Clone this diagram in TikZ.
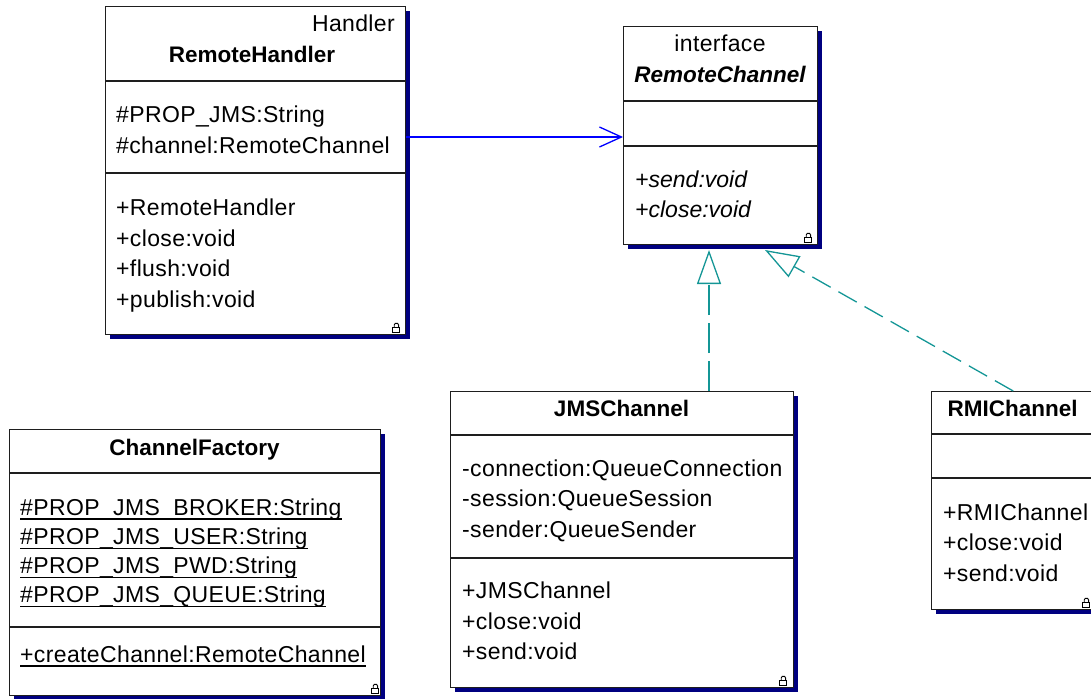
\documentclass[tikz,border=0pt]{standalone}
\usepackage{fontspec}
\setmainfont{Liberation Sans}[UprightFeatures={LetterSpace=1.6}]
\usetikzlibrary{arrows.meta,shadows}

\definecolor{umlshadow}{RGB}{0,0,128}
\definecolor{assocblue}{RGB}{0,0,255}
\definecolor{realteal}{RGB}{20,150,150}
\definecolor{boxline}{RGB}{30,30,30}

\newcommand\umlfont{\fontsize{23}{28}\selectfont}
\newcommand\umltitlefont{\fontsize{22.5}{28}\selectfont\bfseries}

\begin{document}
\begin{tikzpicture}[x=1pt,y=-1pt,
  classbox/.style={draw=boxline, line width=1.4pt, fill=white, anchor=north west,
    inner sep=0pt, rectangle,
    drop shadow={shadow xshift=4pt, shadow yshift=-4pt, fill=umlshadow, opacity=1}},
  divider/.style={draw=boxline, line width=1.4pt},
  member/.style={anchor=base west, inner sep=0pt, font=\umlfont},
  classtitle/.style={anchor=base, inner sep=0pt, font=\umltitlefont},
  staticline/.style={draw=black, line width=1.2pt},
  assoc/.style={draw=assocblue, line width=1.3pt,
    -{Straight Barb[length=22pt,width=20pt]}},
  realize/.style={draw=realteal, line width=1.3pt, dash pattern=on 30pt off 8pt,
    -{Triangle[length=34pt,width=24pt,fill=white]}},
  padlock/.pic={
    \draw[line width=0.9pt, black, fill=white] (-3.5,0) rectangle (3.5,-5);
    \draw[line width=0.9pt, black] (-2.2,-5) -- (-2.2,-8) -- (-1.2,-9.5) -- (1.2,-9.5) -- (2.2,-8) -- (2.2,-5);
  }]

\path[use as bounding box] (0,0) rectangle (1091,698);
\clip (0,0) rectangle (1091,698);

% ---------- class boxes ----------
\node[classbox, minimum width=300pt, minimum height=328pt] (rh) at (105,6) {};
\node[classbox, minimum width=194pt, minimum height=218pt] (rc) at (623,26) {};
\node[classbox, minimum width=343pt, minimum height=296pt] (jms) at (450,391) {};
\node[classbox, minimum width=163pt, minimum height=218pt] (rmi) at (931,391) {};
\node[classbox, minimum width=371pt, minimum height=266pt] (cf) at (9,429) {};

% ---------- compartment dividers ----------
\draw[divider] (rh.west |- 0,81) -- (rh.east |- 0,81);
\draw[divider] (rh.west |- 0,173) -- (rh.east |- 0,173);
\draw[divider] (rc.west |- 0,101) -- (rc.east |- 0,101);
\draw[divider] (rc.west |- 0,146) -- (rc.east |- 0,146);
\draw[divider] (jms.west |- 0,435) -- (jms.east |- 0,435);
\draw[divider] (jms.west |- 0,558) -- (jms.east |- 0,558);
\draw[divider] (rmi.west |- 0,434) -- (rmi.east |- 0,434);
\draw[divider] (rmi.west |- 0,478) -- (rmi.east |- 0,478);
\draw[divider] (cf.west |- 0,473) -- (cf.east |- 0,473);
\draw[divider] (cf.west |- 0,627) -- (cf.east |- 0,627);

% ---------- RemoteHandler ----------
\node[member, anchor=base east] (rh-st) at (395,32) {Handler};
\node[classtitle] (rh-name) at (252,63) {RemoteHandler};
\node[member] (rh-a1) at (116,122.5) {\#PROP\_JMS:String};
\node[member] (rh-a2) at (116,153.5) {\#channel:RemoteChannel};
\node[member] (rh-m1) at (116,215) {+RemoteHandler};
\node[member] (rh-m2) at (116,246) {+close:void};
\node[member] (rh-m3) at (116,276) {+flush:void};
\node[member] (rh-m4) at (116,307) {+publish:void};

% ---------- RemoteChannel ----------
\node[member, anchor=base] (rc-st) at (720,52) {interface};
\node[classtitle, font=\umltitlefont\itshape] (rc-name) at (720,83) {RemoteChannel};
\node[member, font=\umlfont\itshape] (rc-m1) at (635,187) {+send:void};
\node[member, font=\umlfont\itshape] (rc-m2) at (635,217) {+close:void};

% ---------- JMSChannel ----------
\node[classtitle] (jms-name) at (621.5,416) {JMSChannel};
\node[member] (jms-a1) at (462,476) {-connection:QueueConnection};
\node[member] (jms-a2) at (462,506.5) {-session:QueueSession};
\node[member] (jms-a3) at (462,537) {-sender:QueueSender};
\node[member] (jms-m1) at (462,598.5) {+JMSChannel};
\node[member] (jms-m2) at (462,629) {+close:void};
\node[member] (jms-m3) at (462,659.5) {+send:void};

% ---------- RMIChannel ----------
\node[classtitle] (rmi-name) at (1012.5,416) {RMIChannel};
\node[member] (rmi-m1) at (943,520) {+RMIChannel};
\node[member] (rmi-m2) at (943,550.5) {+close:void};
\node[member] (rmi-m3) at (943,581) {+send:void};

% ---------- ChannelFactory ----------
\node[classtitle] (cf-name) at (194.5,455) {ChannelFactory};
\node[member] (cf-a1) at (20,515) {\#PROP\_JMS\_BROKER:String};
\node[member] (cf-a2) at (20,544.5) {\#PROP\_JMS\_USER:String};
\node[member] (cf-a3) at (20,573.5) {\#PROP\_JMS\_PWD:String};
\node[member] (cf-a4) at (20,602.5) {\#PROP\_JMS\_QUEUE:String};
\node[member] (cf-m1) at (20,662) {+createChannel:RemoteChannel};
\foreach \m in {cf-a1,cf-a2,cf-a3,cf-a4,cf-m1}
  \draw[staticline] ([yshift=-4pt]\m.base west) -- ([yshift=-4pt]\m.base east);

% ---------- padlock marks ----------
\pic at ([shift={(-10,-2.5)}]rh.south east) {padlock};
\pic at ([shift={(-10,-2.5)}]rc.south east) {padlock};
\pic at ([shift={(-11,-2.5)}]jms.south east) {padlock};
\pic at ([shift={(-9,-2.5)}]rmi.south east) {padlock};
\pic at ([shift={(-6,-2.5)}]cf.south east) {padlock};

% ---------- relations ----------
\draw[assoc] (rh.east |- 0,137) -- (rc.west |- 0,137);

\coordinate (jtip) at (709,250);
\draw[realize] (jms.north -| jtip) -- (jtip);

\coordinate (rtip) at (765,250);
\draw[realize, dash pattern=on 21pt off 9pt] (rmi.north) -- (rtip);

\end{tikzpicture}
\end{document}
